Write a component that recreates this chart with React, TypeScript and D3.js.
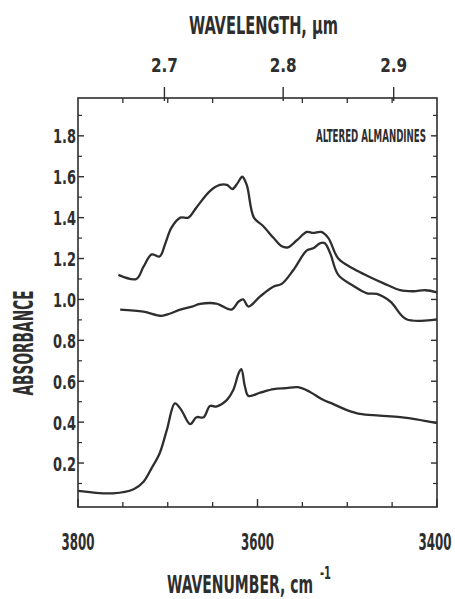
import React from 'react';
import * as d3 from 'd3';

// upper curve
const wnA = [3755, 3735, 3727, 3718, 3709, 3703, 3696, 3686, 3677, 3668, 3653, 3642, 3634, 3628, 3622, 3617, 3612, 3604, 3594, 3582, 3573, 3566, 3556, 3545, 3538, 3529, 3521, 3510, 3493, 3475, 3460, 3441, 3426, 3413, 3400];
const absA = [1.12, 1.10, 1.16, 1.22, 1.21, 1.27, 1.35, 1.40, 1.40, 1.45, 1.53, 1.56, 1.56, 1.54, 1.57, 1.60, 1.56, 1.40, 1.36, 1.30, 1.26, 1.255, 1.29, 1.33, 1.325, 1.33, 1.30, 1.20, 1.15, 1.11, 1.08, 1.045, 1.04, 1.045, 1.035];

// middle curve
const wnB = [3753, 3727, 3707, 3698, 3686, 3673, 3664, 3646, 3629, 3621, 3616, 3610, 3597, 3582, 3573, 3560, 3545, 3538, 3530, 3525, 3519, 3510, 3493, 3478, 3467, 3452, 3434, 3400];
const absB = [0.95, 0.94, 0.92, 0.93, 0.95, 0.965, 0.978, 0.98, 0.95, 0.99, 1.0, 0.965, 1.015, 1.063, 1.076, 1.144, 1.24, 1.25, 1.275, 1.275, 1.226, 1.12, 1.066, 1.03, 1.027, 0.99, 0.903, 0.903];

// lower curve
const wnC = [3800, 3761, 3738, 3727, 3718, 3709, 3701, 3692, 3685, 3675, 3668, 3660, 3653, 3646, 3634, 3627, 3621, 3618, 3614, 3610, 3597, 3582, 3568, 3555, 3542, 3527, 3516, 3501, 3486, 3464, 3441, 3423, 3400];
const absC = [0.064, 0.052, 0.072, 0.109, 0.175, 0.248, 0.362, 0.492, 0.46, 0.39, 0.424, 0.424, 0.479, 0.476, 0.509, 0.557, 0.639, 0.659, 0.574, 0.528, 0.544, 0.561, 0.566, 0.571, 0.549, 0.509, 0.489, 0.46, 0.44, 0.432, 0.424, 0.414, 0.395];

const bottomTicks = [3800, 3600, 3400];
const bottomMinor = [3750, 3700, 3650, 3550, 3500, 3450];
const topTicks = [2.7, 2.8, 2.9];
const yTicks = [0.2, 0.4, 0.6, 0.8, 1.0, 1.2, 1.4, 1.6, 1.8];
const yMinor = [0.1, 0.3, 0.5, 0.7, 0.9, 1.1, 1.3, 1.5, 1.7, 1.9];

const FONT = '"DejaVu Sans Condensed", "DejaVu Sans", sans-serif';
const INK = '#2e2e2e';

export default function App() {
  const left = 78, right = 437, top = 98, bottom = 507;
  const x = d3.scaleLinear().domain([3800, 3400]).range([left, right]);
  const y = d3.scaleLinear().domain([-0.015, 1.985]).range([bottom, top]);

  const line = d3.line<[number, number]>()
    .x(d => x(d[0]))
    .y(d => y(d[1]))
    .curve(d3.curveCatmullRom.alpha(0.5));

  const series = [
    d3.zip(wnA, absA) as [number, number][],
    d3.zip(wnB, absB) as [number, number][],
    d3.zip(wnC, absC) as [number, number][],
  ];

  const fmtY = d3.format('.1f');

  return (
    <svg width={455} height={599} style={{position: 'absolute', left: 0, top: 0, background: '#fff'}}>
      {/* frame */}
      <rect x={left} y={top} width={right - left} height={bottom - top} fill="none" stroke={INK} strokeWidth={1.6} />

      {/* left + right ticks */}
      {yTicks.map(v => (
        <g key={'yt' + v}>
          <line x1={left} x2={left + 6} y1={y(v)} y2={y(v)} stroke={INK} strokeWidth={1.4} />
          <line x1={right} x2={right - 6} y1={y(v)} y2={y(v)} stroke={INK} strokeWidth={1.4} />
          <text x={76} y={y(v) + 7.5} textAnchor="end" fontFamily={FONT} fontWeight="bold" fontSize={20}
            textLength={23} lengthAdjust="spacingAndGlyphs" fill={INK}>{fmtY(v)}</text>
        </g>
      ))}
      {yMinor.map(v => (
        <g key={'ym' + v}>
          <line x1={left} x2={left + 4} y1={y(v)} y2={y(v)} stroke={INK} strokeWidth={1.2} />
          <line x1={right} x2={right - 4} y1={y(v)} y2={y(v)} stroke={INK} strokeWidth={1.2} />
        </g>
      ))}

      {/* bottom axis */}
      {bottomMinor.map(w => (
        <g key={'bm' + w}>
          <line x1={x(w)} x2={x(w)} y1={bottom} y2={bottom - 5} stroke={INK} strokeWidth={1.3} />
          <line x1={x(w)} x2={x(w)} y1={top} y2={top + 5} stroke={INK} strokeWidth={1.3} />
        </g>
      ))}
      {bottomTicks.map(w => (
        <g key={'bt' + w}>
          <line x1={x(w)} x2={x(w)} y1={bottom} y2={bottom - 8} stroke={INK} strokeWidth={1.4} />
          <text x={Math.min(x(w), 435)} y={550} textAnchor="middle" fontFamily={FONT} fontWeight="bold" fontSize={23}
            textLength={33} lengthAdjust="spacingAndGlyphs" fill={INK}>{w}</text>
        </g>
      ))}

      {/* top axis, wavelength in micrometres */}
      {topTicks.map(l => (
        <g key={'tt' + l}>
          <line x1={x(10000 / l)} x2={x(10000 / l)} y1={top + 3} y2={top - 11} stroke={INK} strokeWidth={1.4} />
          <text x={x(10000 / l)} y={72} textAnchor="middle" fontFamily={FONT} fontWeight="bold" fontSize={20}
            textLength={27} lengthAdjust="spacingAndGlyphs" fill={INK}>{l.toFixed(1)}</text>
        </g>
      ))}

      {/* curves */}
      {series.map((s, i) => (
        <path key={i} d={line(s) || ''} fill="none" stroke={INK} strokeWidth={2.3} strokeLinejoin="round" />
      ))}

      {/* label inside plot */}
      <text x={426} y={142} textAnchor="end" fontFamily={FONT} fontWeight="bold" fontSize={18}
        textLength={110} lengthAdjust="spacingAndGlyphs" fill={INK}>ALTERED ALMANDINES</text>

      {/* axis titles */}
      <text x={189} y={34} fontFamily={FONT} fontWeight="bold" fontSize={25}
        textLength={149} lengthAdjust="spacingAndGlyphs" fill={INK}>WAVELENGTH, μm</text>
      <text x={167} y={593} fontFamily={FONT} fontWeight="bold" fontSize={25}
        textLength={146} lengthAdjust="spacingAndGlyphs" fill={INK}>WAVENUMBER, cm</text>
      <text x={320} y={579} fontFamily={FONT} fontWeight="bold" fontSize={18}
        textLength={11} lengthAdjust="spacingAndGlyphs" fill={INK}>-1</text>
      <text transform="translate(33,343) rotate(-90)" textAnchor="middle" fontFamily={FONT} fontWeight="bold" fontSize={26}
        textLength={105} lengthAdjust="spacingAndGlyphs" fill={INK}>ABSORBANCE</text>
    </svg>
  );
}
